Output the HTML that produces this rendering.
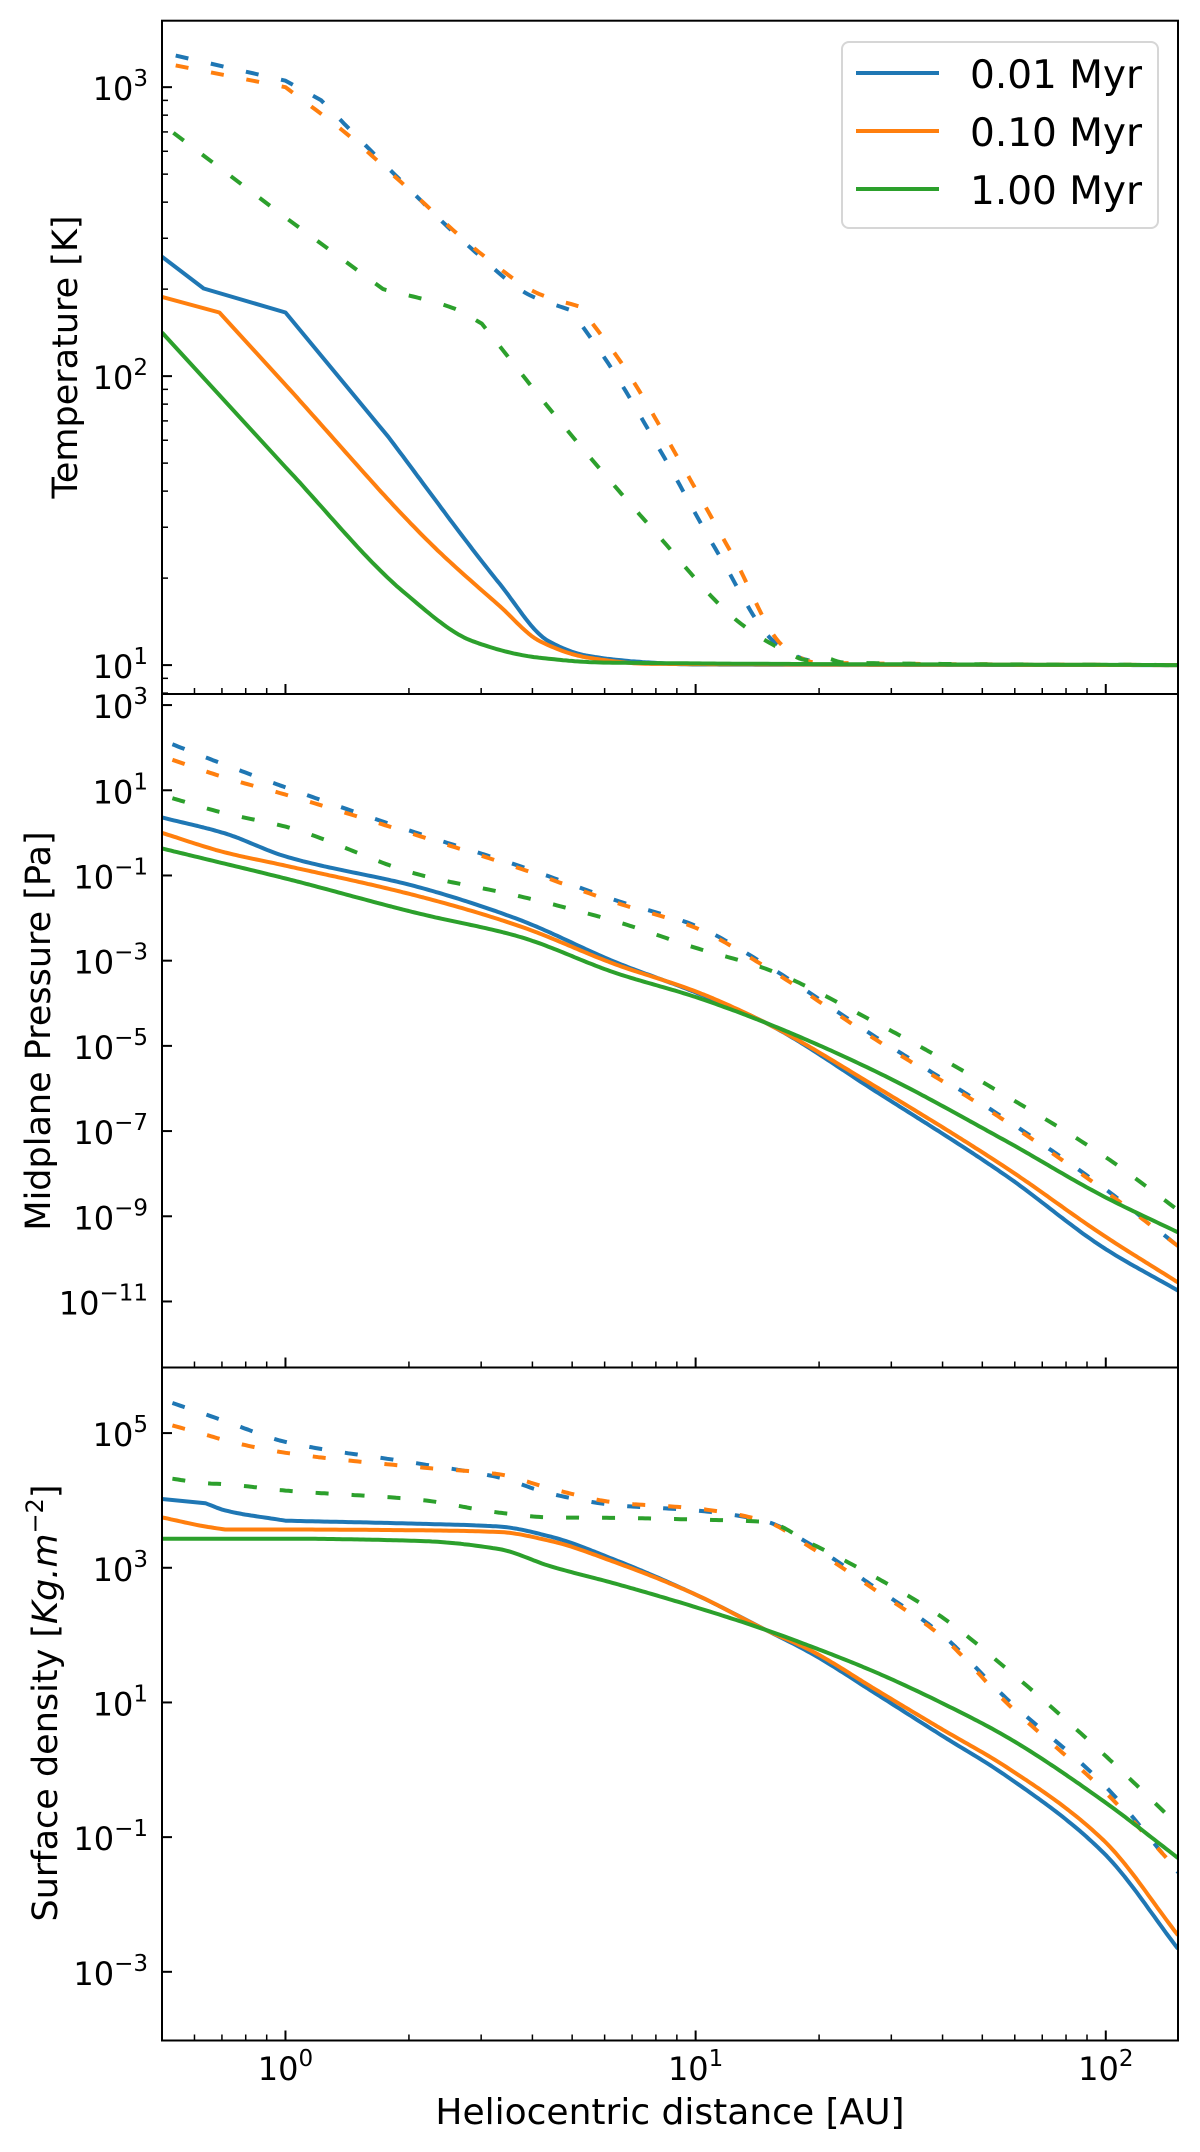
<!DOCTYPE html>
<html><head><meta charset="utf-8"><style>
html,body{margin:0;padding:0;background:#fff;}
svg{display:block;font-family:"DejaVu Sans","Liberation Sans",sans-serif;}
</style></head><body>
<svg id="fig" width="1200" height="2152" viewBox="0 0 1200 2152" xmlns="http://www.w3.org/2000/svg">
<rect x="0" y="0" width="1200" height="2152" fill="#fff"/>
<g id="panels"></g>
<text x="670" y="2124" font-size="36" text-anchor="middle" fill="#000">Heliocentric distance [AU]</text>
<text transform="translate(77,357) rotate(-90)" font-size="35" text-anchor="middle" fill="#000">Temperature [K]</text>
<text transform="translate(50,1031) rotate(-90)" font-size="35" text-anchor="middle" fill="#000">Midplane Pressure [Pa]</text>
<text transform="translate(57,1703) rotate(-90)" font-size="35" text-anchor="middle" fill="#000">Surface density [<tspan font-style="italic">Kg.m</tspan><tspan dy="-14" font-size="24">−2</tspan><tspan dy="14">]</tspan></text>
<g>
<rect x="842" y="42" width="316" height="186" rx="7" fill="#fff" fill-opacity="0.8" stroke="#d6d6d6" stroke-width="2"/>
<line x1="856" x2="939" y1="73" y2="73" stroke="#1f77b4" stroke-width="4"/>
<line x1="856" x2="939" y1="131" y2="131" stroke="#ff7f0e" stroke-width="4"/>
<line x1="856" x2="939" y1="189" y2="189" stroke="#2ca02c" stroke-width="4"/>
<text x="970" y="88" font-size="39">0.01 Myr</text>
<text x="970" y="146" font-size="39">0.10 Myr</text>
<text x="970" y="204" font-size="39">1.00 Myr</text>
</g>
</svg>
<script>
// ---- data ----
const seriesColors = ["#1f77b4", "#ff7f0e", "#2ca02c"];
const xTickLabels = ["0", "1", "2"];
// Panel 1: Temperature [K]
const tBlueX = [0.5, 0.632, 1.0, 1.78, 3.33, 4.38, 5.49, 7.8, 10, 150];
const tBlueY = [259, 201, 166, 61.7, 19.1, 12.1, 10.75, 10.2, 10.05, 10];
const tOrangeX = [0.5, 0.69, 1.0, 2.28, 3.33, 4.17, 5.49, 7.8, 150];
const tOrangeY = [188, 166, 93.3, 26, 16.0, 12.1, 10.6, 10.1, 10];
const tGreenX = [0.5, 1.0, 1.96, 2.86, 4.17, 6.06, 150];
const tGreenY = [141.6, 48.4, 17.7, 12.1, 10.6, 10.2, 10];
const tBlueDX = [0.54, 1.0, 1.22, 1.82, 2.86, 3.96, 4.97, 6.22, 8.41, 11.36, 15.7, 18.8, 22, 150];
const tBlueDY = [1286, 1053, 902, 509, 274, 190, 169, 107, 51.9, 24.3, 11.9, 10.4, 10.1, 10];
const tOrangeDX = [0.54, 1.0, 1.42, 1.92, 3.01, 4.17, 5.22, 6.71, 9.07, 12.25, 16.5, 19.7, 150];
const tOrangeDY = [1189, 1000, 684, 467, 264, 192, 174, 107, 51.9, 24.3, 11.5, 10.2, 10];
const tGreenDX = [0.533, 1.0, 1.73, 2.59, 3.01, 4.72, 7.8, 12.9, 16.1, 18.8, 20.5, 23, 150];
const tGreenDY = [695, 354, 200, 171, 152, 68.4, 29.9, 13.9, 11.4, 10.4, 10.6, 10.2, 10];
const tYTicks = ["1", "2", "3"];
// Panel 2: Midplane pressure [Pa]
const pX = [0.5, 0.71, 1.0, 2.1, 3.7, 6.4, 10, 14.8, 27.5, 57, 99, 150];
const pDX = [0.53, 0.71, 1.0, 2.1, 3.7, 6.4, 10, 14.8, 27.5, 57, 99, 150];
const pBlue = [2.3, 0.98, 0.28, 0.054, 9.3e-3, 9.1e-4, 1.8e-4, 3.5e-5, 8.5e-7, 9.1e-9, 1.8e-10, 1.8e-11];
const pOrange = [1.0, 0.35, 0.17, 0.033, 6.6e-3, 8.1e-4, 1.9e-4, 3.5e-5, 1.1e-6, 1.4e-8, 3.5e-10, 2.8e-11];
const pGreen = [0.43, 0.19, 0.085, 0.013, 3.7e-3, 5.1e-4, 1.4e-4, 3.5e-5, 2.5e-6, 5.9e-8, 2.9e-9, 4.2e-10];
const pBlueD = [120, 40, 11.7, 0.98, 0.17, 0.026, 6.6e-3, 8.1e-4, 1.6e-5, 1.9e-7, 4.6e-9, 2.0e-10];
const pOrangeD = [52, 20, 7.9, 0.87, 0.15, 0.023, 5.9e-3, 7.2e-4, 1.4e-5, 1.7e-7, 4.1e-9, 2.0e-10];
const pGreenD = [6.5, 2.9, 1.4, 0.107, 0.033, 8.3e-3, 2.0e-3, 6.5e-4, 3.5e-5, 6.8e-7, 2.6e-8, 1.4e-9];
const pYTicks = ["3", "1", "−1", "−3", "−5", "−7", "−9", "−11"];
// Panel 3: Surface density [Kg/m^2]
const sX = [0.5, 0.638, 0.713, 1.0, 2.13, 3.31, 4.43, 6.38, 10, 14.8, 19.1, 27.5, 39.6, 57.2, 98.9, 150];
const sDX = [0.53, 0.638, 0.713, 1.0, 2.13, 3.31, 4.43, 6.38, 10, 14.8, 19.1, 27.5, 39.6, 57.2, 98.9, 150];
const sBlue = [1.05e4, 9.1e3, 7.1e3, 5.0e3, 4.5e3, 4.1e3, 2.9e3, 1.3e3, 400, 120, 54, 13.5, 3.3, 0.81, 0.058, 2.2e-3];
const sOrange = [5.6e3, 4.1e3, 3.7e3, 3.7e3, 3.6e3, 3.4e3, 2.5e3, 1.2e3, 400, 120, 59, 15.5, 4.1, 1.1, 0.089, 3.5e-3];
const sGreen = [2.7e3, 2.7e3, 2.7e3, 2.7e3, 2.5e3, 1.9e3, 1.05e3, 580, 260, 120, 68, 28, 10, 3.1, 0.34, 0.049];
const sBlueD = [2.8e5, 1.9e5, 1.5e5, 7.4e4, 3.5e4, 2.2e4, 1.26e4, 8.5e3, 7.1e3, 4.9e3, 2.2e3, 500, 105, 11.5, 0.6, 0.03];
const sOrangeD = [1.3e5, 9.5e4, 7.8e4, 5.1e4, 3.1e4, 2.45e4, 1.5e4, 9.3e3, 7.6e3, 4.9e3, 2.0e3, 460, 98, 10, 0.49, 0.032];
const sGreenD = [2.1e4, 1.8e4, 1.74e4, 1.4e4, 1.02e4, 6.6e3, 5.6e3, 5.5e3, 5.2e3, 4.8e3, 2.3e3, 720, 190, 32, 1.7, 0.15];
const sYTicks = ["5", "3", "1", "−1", "−3"];

// ---- layout ----
const NS = "http://www.w3.org/2000/svg";
const X0 = 162, X1 = 1178, XMIN = Math.log10(0.5), XMAX = Math.log10(150);
function xs(v) { return X0 + (Math.log10(v) - XMIN) / (XMAX - XMIN) * (X1 - X0); }
function mk(tag, attrs, parent) {
  const e = document.createElementNS(NS, tag);
  for (const k in attrs) e.setAttribute(k, attrs[k]);
  parent.appendChild(e);
  return e;
}
// monotone cubic (Fritsch-Carlson) through screen points, sampled
function monoSeg(seg, out) {
  const n = seg.length;
  if (n < 3) { seg.forEach(p => out.push(p)); return; }
  const dx = [], dl = [];
  for (let i = 0; i < n - 1; i++) { dx.push(seg[i + 1][0] - seg[i][0]); dl.push((seg[i + 1][1] - seg[i][1]) / dx[i]); }
  const m = [dl[0]];
  for (let i = 1; i < n - 1; i++) {
    if (dl[i - 1] * dl[i] <= 0) m.push(0);
    else { const w1 = 2 * dx[i] + dx[i - 1], w2 = dx[i] + 2 * dx[i - 1]; m.push((w1 + w2) / (w1 / dl[i - 1] + w2 / dl[i])); }
  }
  m.push(dl[n - 2]);
  for (let i = 0; i < n - 1; i++) {
    const steps = Math.max(2, Math.ceil(dx[i] / 3));
    for (let s = 0; s < steps; s++) {
      const t = s / steps, h = dx[i];
      const h00 = 2 * t * t * t - 3 * t * t + 1, h10 = t * t * t - 2 * t * t + t, h01 = -2 * t * t * t + 3 * t * t, h11 = t * t * t - t * t;
      out.push([seg[i][0] + t * h, h00 * seg[i][1] + h10 * h * m[i] + h01 * seg[i + 1][1] + h11 * h * m[i + 1]]);
    }
  }
}
function smoothPath(pts, corners) {
  const cuts = [0].concat(corners || [], [pts.length - 1]);
  const out = [];
  for (let c = 0; c < cuts.length - 1; c++) monoSeg(pts.slice(cuts[c], cuts[c + 1] + 1), out);
  out.push(pts[pts.length - 1]);
  return out.map((p, i) => (i ? "L" : "M") + p[0].toFixed(1) + "," + p[1].toFixed(1)).join(" ");
}
const root = document.getElementById("panels");

function panel(name, top, bot, lmin, lmax, ticks, minor, series, labelX) {
  const g = mk("g", {}, root);
  
  
  const ys = v => bot - (Math.log10(v) - lmin) / (lmax - lmin) * (bot - top);
  const cid = "clip-" + name;
  const cp = mk("clipPath", { id: cid }, g);
  mk("rect", { x: X0, y: top, width: X1 - X0, height: bot - top }, cp);
  const lg = mk("g", { "clip-path": "url(#" + cid + ")" }, g);
  series.forEach(s => {
    const pts = s.x.map((xv, i) => [xs(xv), ys(s.y[i])]);
    const p = mk("path", { d: smoothPath(pts, s.k), fill: "none", stroke: s.c, "stroke-width": 4, "stroke-linejoin": "round" }, lg);
    if (s.dash) p.setAttribute("stroke-dasharray", "13 23");
    
    
  });
  ticks.forEach(t => {
    const v = Math.pow(10, parseFloat(t.replace("−", "-")));
    const y = ys(v);
    const tk = mk("line", { x1: X0, x2: X0 + 10, y1: y, y2: y, stroke: "#000", "stroke-width": 2 }, g);
    
    
    const tx = mk("text", { x: 148, y: y + 13, "font-size": 32, "text-anchor": "end" }, g);
    
    
    const a = mk("tspan", {}, tx); a.textContent = "10";
    const b = mk("tspan", { dy: -14, "font-size": 23 }, tx); b.textContent = t;
  });
  if (minor) {
    for (let e = Math.floor(lmin); e < lmax; e++) for (let m = 2; m <= 9; m++) {
      const v = m * Math.pow(10, e), lv = Math.log10(v);
      if (lv <= lmin || lv >= lmax) continue;
      const y = ys(v);
      mk("line", { x1: X0, x2: X0 + 6, y1: y, y2: y, stroke: "#000", "stroke-width": 1.5 }, g);
    }
  }
  for (let e = -1; e <= 2; e++) for (let m = 1; m <= 9; m++) {
    const v = m * Math.pow(10, e);
    if (v < 0.5 || v > 150) continue;
    const x = xs(v);
    const major = m === 1;
    mk("line", { x1: x, x2: x, y1: bot, y2: bot - (major ? 10 : 6), stroke: "#000", "stroke-width": major ? 2 : 1.5 }, g);
  }
  if (labelX) {
    xTickLabels.forEach(t => {
      const x = xs(Math.pow(10, parseFloat(t)));
      const tx = mk("text", { x: x, y: 2080, "font-size": 32, "text-anchor": "middle" }, g);
      
      
      const a = mk("tspan", {}, tx); a.textContent = "10";
      const b = mk("tspan", { dy: -14, "font-size": 23 }, tx); b.textContent = t;
    });
  }
  const fr = mk("rect", { x: X0, y: top, width: X1 - X0, height: bot - top, fill: "none", stroke: "#000", "stroke-width": 2 }, g);
  
  
}

const C = seriesColors;
panel("temperature", 20.7, 694, 0.9, 3.23, tYTicks, true, [
  { x: tBlueDX, y: tBlueDY, c: C[0], dash: true, k: [1, 2, 6], n: "temp-0.01-dashed" },
  { x: tOrangeDX, y: tOrangeDY, c: C[1], dash: true, k: [1, 6], n: "temp-0.10-dashed" },
  { x: tGreenDX, y: tGreenDY, c: C[2], dash: true, k: [1, 2, 4], n: "temp-1.00-dashed" },
  { x: tBlueX, y: tBlueY, c: C[0], k: [1, 2, 3], n: "temp-0.01" },
  { x: tOrangeX, y: tOrangeY, c: C[1], k: [1, 2], n: "temp-0.10" },
  { x: tGreenX, y: tGreenY, c: C[2], k: [1], n: "temp-1.00" }
], false);
panel("pressure", 694, 1367.5, -12.55, 3.26, pYTicks, false, [
  { x: pDX, y: pBlueD, c: C[0], dash: true, n: "pressure-0.01-dashed" },
  { x: pDX, y: pOrangeD, c: C[1], dash: true, n: "pressure-0.10-dashed" },
  { x: pDX, y: pGreenD, c: C[2], dash: true, n: "pressure-1.00-dashed" },
  { x: pX, y: pBlue, c: C[0], n: "pressure-0.01" },
  { x: pX, y: pOrange, c: C[1], n: "pressure-0.10" },
  { x: pX, y: pGreen, c: C[2], n: "pressure-1.00" }
], false);
panel("surface-density", 1367.5, 2040.5, -4.02, 5.974, sYTicks, false, [
  { x: sDX, y: sBlueD, c: C[0], dash: true, n: "sigma-0.01-dashed" },
  { x: sDX, y: sOrangeD, c: C[1], dash: true, n: "sigma-0.10-dashed" },
  { x: sDX, y: sGreenD, c: C[2], dash: true, n: "sigma-1.00-dashed" },
  { x: sX, y: sBlue, c: C[0], k: [1, 3], n: "sigma-0.01" },
  { x: sX, y: sOrange, c: C[1], k: [2], n: "sigma-0.10" },
  { x: sX, y: sGreen, c: C[2], n: "sigma-1.00" }
], true);
</script>
</body></html>
